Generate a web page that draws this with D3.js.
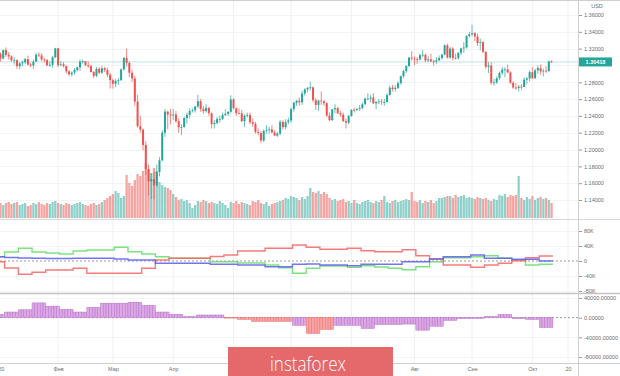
<!DOCTYPE html>
<html>
<head>
<meta charset="utf-8">
<script src="https://d3js.org/d3.v7.min.js"></script>
<style>
  body { margin: 0; background: #ffffff; }
  svg { display: block; font-family: "Liberation Sans", Arial, sans-serif; }
</style>
</head>
<body>
<svg id="drawing_region"></svg>
<script>
// daily candles, index 0 = 2020-01-01 (weekdays only)
const opens = [1.3255,1.3248,1.3140,1.3082,1.3183,1.3125,1.3107,1.3062,1.3064,1.2992,1.3025,1.3039,1.3075,1.3011,1.3000,1.3044,1.3128,1.3120,1.3070,1.3066,1.3002,1.3007,1.3097,1.3203,1.3004,1.3013,1.2992,1.2929,1.2895,1.2915,1.2945,1.2977,1.3046,1.3049,1.3004,1.2992,1.2922,1.2877,1.2960,1.2913,1.2966,1.2946,1.2890,1.2825,1.2782,1.2817,1.2826,1.2953,1.3090,1.3030,1.2913,1.2845,1.2571,1.2278,1.2237,1.2054,1.1770,1.1623,1.1649,1.1574,1.1734,1.1872,1.2199,1.2451,1.2417,1.2406,1.2417,1.2337,1.2264,1.2268,1.2375,1.2413,1.2458,1.2467,1.2512,1.2575,1.2483,1.2458,1.2495,1.2432,1.2303,1.2316,1.2363,1.2364,1.2410,1.2424,1.2448,1.2596,1.2491,1.2433,1.2432,1.2336,1.2401,1.2410,1.2326,1.2306,1.2209,1.2197,1.2107,1.2222,1.2230,1.2239,1.2204,1.2165,1.2190,1.2329,1.2266,1.2326,1.2346,1.2481,1.2556,1.2580,1.2562,1.2666,1.2716,1.2736,1.2740,1.2587,1.2531,1.2582,1.2573,1.2551,1.2404,1.2350,1.2479,1.2493,1.2432,1.2415,1.2337,1.2319,1.2400,1.2472,1.2469,1.2483,1.2493,1.2539,1.2605,1.2605,1.2618,1.2549,1.2565,1.2572,1.2565,1.2566,1.2648,1.2736,1.2720,1.2734,1.2791,1.2872,1.2933,1.2994,1.3094,1.3082,1.3076,1.3073,1.3122,1.3127,1.3059,1.3072,1.3050,1.3045,1.3062,1.3088,1.3129,1.3240,1.3094,1.3201,1.3089,1.3088,1.3150,1.3203,1.3214,1.3349,1.3371,1.3384,1.3344,1.3268,1.3278,1.3162,1.2984,1.2998,1.2794,1.2800,1.2848,1.2913,1.2951,1.2953,1.2917,1.2795,1.2737,1.2731,1.2748,1.2744,1.2831,1.2846,1.2920,1.2848,1.2942,1.2969,1.2929,1.2938,1.2934,1.3048];
const highs = [1.3265,1.3285,1.3155,1.3190,1.3214,1.3160,1.3120,1.3097,1.3070,1.3040,1.3060,1.3090,1.3118,1.3030,1.3070,1.3153,1.3155,1.3145,1.3090,1.3075,1.3050,1.3115,1.3210,1.3210,1.3050,1.3040,1.3000,1.2945,1.2930,1.2970,1.2990,1.3070,1.3070,1.3055,1.3050,1.3010,1.2935,1.2980,1.2980,1.2995,1.2983,1.2975,1.2915,1.2845,1.2840,1.2850,1.2965,1.3100,1.3200,1.3050,1.2950,1.2880,1.2650,1.2400,1.2250,1.2100,1.1820,1.1720,1.1740,1.1820,1.1910,1.2230,1.2480,1.2460,1.2485,1.2480,1.2460,1.2370,1.2300,1.2390,1.2440,1.2490,1.2490,1.2520,1.2650,1.2600,1.2520,1.2540,1.2510,1.2440,1.2350,1.2390,1.2400,1.2440,1.2480,1.2460,1.2645,1.2610,1.2500,1.2490,1.2470,1.2420,1.2440,1.2440,1.2370,1.2330,1.2250,1.2220,1.2240,1.2290,1.2270,1.2290,1.2230,1.2210,1.2350,1.2350,1.2360,1.2380,1.2500,1.2570,1.2590,1.2620,1.2700,1.2730,1.2740,1.2810,1.2750,1.2610,1.2590,1.2690,1.2590,1.2560,1.2440,1.2480,1.2540,1.2510,1.2460,1.2440,1.2370,1.2410,1.2480,1.2500,1.2490,1.2530,1.2560,1.2620,1.2670,1.2650,1.2670,1.2580,1.2600,1.2600,1.2600,1.2670,1.2760,1.2770,1.2770,1.2810,1.2880,1.2950,1.3000,1.3100,1.3170,1.3110,1.3100,1.3140,1.3185,1.3140,1.3110,1.3140,1.3070,1.3100,1.3120,1.3140,1.3250,1.3260,1.3220,1.3220,1.3140,1.3160,1.3210,1.3280,1.3360,1.3400,1.3482,1.3400,1.3380,1.3320,1.3290,1.3170,1.3040,1.3040,1.2840,1.2870,1.2930,1.2980,1.2980,1.3010,1.2930,1.2810,1.2790,1.2770,1.2780,1.2860,1.2860,1.2940,1.2980,1.2960,1.3000,1.3010,1.2960,1.2990,1.3060,1.3060];
const lows = [1.3235,1.3115,1.3046,1.3072,1.3102,1.3070,1.3043,1.3010,1.2960,1.2955,1.2990,1.3016,1.2999,1.2980,1.2961,1.3040,1.3100,1.3050,1.3035,1.2990,1.2985,1.2975,1.3085,1.2980,1.2995,1.2975,1.2905,1.2875,1.2870,1.2890,1.2925,1.2935,1.3020,1.2990,1.2970,1.2915,1.2850,1.2860,1.2895,1.2900,1.2920,1.2860,1.2725,1.2725,1.2740,1.2770,1.2815,1.2940,1.2990,1.2860,1.2805,1.2520,1.2260,1.2200,1.1990,1.1700,1.1455,1.1409,1.1410,1.1560,1.1680,1.1860,1.2150,1.2240,1.2300,1.2350,1.2320,1.2200,1.2170,1.2260,1.2310,1.2370,1.2440,1.2440,1.2490,1.2450,1.2430,1.2440,1.2400,1.2250,1.2250,1.2300,1.2320,1.2350,1.2400,1.2400,1.2430,1.2480,1.2400,1.2420,1.2330,1.2270,1.2380,1.2300,1.2270,1.2190,1.2170,1.2080,1.2090,1.2190,1.2190,1.2190,1.2160,1.2150,1.2170,1.2240,1.2240,1.2300,1.2320,1.2450,1.2520,1.2520,1.2530,1.2640,1.2680,1.2700,1.2560,1.2470,1.2460,1.2530,1.2520,1.2390,1.2340,1.2340,1.2430,1.2420,1.2390,1.2330,1.2250,1.2300,1.2390,1.2440,1.2460,1.2460,1.2480,1.2530,1.2590,1.2560,1.2540,1.2480,1.2540,1.2530,1.2520,1.2550,1.2640,1.2690,1.2690,1.2720,1.2770,1.2850,1.2910,1.2980,1.3060,1.3005,1.3020,1.3060,1.3100,1.3040,1.3040,1.3040,1.3000,1.3020,1.3050,1.3070,1.3120,1.3080,1.3080,1.3060,1.3070,1.3070,1.3120,1.3150,1.3200,1.3330,1.3350,1.3290,1.3230,1.3180,1.3150,1.2960,1.2910,1.2770,1.2760,1.2780,1.2830,1.2890,1.2860,1.2910,1.2780,1.2720,1.2710,1.2690,1.2710,1.2740,1.2780,1.2810,1.2840,1.2840,1.2900,1.2890,1.2870,1.2910,1.2920,1.3030];
const closes = [1.3248,1.3140,1.3082,1.3183,1.3125,1.3107,1.3062,1.3064,1.2992,1.3025,1.3039,1.3075,1.3011,1.3000,1.3044,1.3128,1.3120,1.3070,1.3066,1.3002,1.3007,1.3097,1.3203,1.3004,1.3013,1.2992,1.2929,1.2895,1.2915,1.2945,1.2977,1.3046,1.3049,1.3004,1.2992,1.2922,1.2877,1.2960,1.2913,1.2966,1.2946,1.2890,1.2825,1.2782,1.2817,1.2826,1.2953,1.3090,1.3030,1.2913,1.2845,1.2571,1.2278,1.2237,1.2054,1.1770,1.1623,1.1649,1.1574,1.1734,1.1872,1.2199,1.2451,1.2417,1.2406,1.2417,1.2337,1.2264,1.2268,1.2375,1.2413,1.2458,1.2467,1.2512,1.2575,1.2483,1.2458,1.2495,1.2432,1.2303,1.2316,1.2363,1.2364,1.2410,1.2424,1.2448,1.2596,1.2491,1.2433,1.2432,1.2336,1.2401,1.2410,1.2326,1.2306,1.2209,1.2197,1.2107,1.2222,1.2230,1.2239,1.2204,1.2165,1.2190,1.2329,1.2266,1.2326,1.2346,1.2481,1.2556,1.2580,1.2562,1.2666,1.2716,1.2736,1.2740,1.2587,1.2531,1.2582,1.2573,1.2551,1.2404,1.2350,1.2479,1.2493,1.2432,1.2415,1.2337,1.2319,1.2400,1.2472,1.2469,1.2483,1.2493,1.2539,1.2605,1.2605,1.2618,1.2549,1.2565,1.2572,1.2565,1.2566,1.2648,1.2736,1.2720,1.2734,1.2791,1.2872,1.2933,1.2994,1.3094,1.3082,1.3076,1.3073,1.3122,1.3127,1.3059,1.3072,1.3050,1.3045,1.3062,1.3088,1.3129,1.3240,1.3094,1.3201,1.3089,1.3088,1.3150,1.3203,1.3214,1.3349,1.3371,1.3384,1.3344,1.3268,1.3278,1.3162,1.2984,1.2998,1.2794,1.2800,1.2848,1.2913,1.2951,1.2953,1.2917,1.2795,1.2737,1.2731,1.2748,1.2744,1.2831,1.2846,1.2920,1.2848,1.2942,1.2969,1.2929,1.2938,1.2934,1.3048,1.3042];
const volumes = [14,16,15,13,15,16,14,15,16,13,14,15,12,13,15,14,16,14,13,15,14,16,17,15,14,13,15,14,13,14,15,16,14,13,12,14,15,13,14,16,18,20,22,24,27,25,20,22,43,35,32,38,44,42,47,55,48,45,50,47,36,33,31,30,28,24,21,18,19,17,18,15,10,13,17,16,18,17,15,16,15,14,17,15,13,10,16,15,17,14,16,15,14,13,17,16,18,15,14,16,12,14,15,16,17,18,20,19,22,21,20,18,21,19,22,30,26,25,27,24,26,24,20,18,19,17,18,19,16,17,15,18,15,14,16,17,18,16,15,17,16,18,22,16,15,17,18,16,17,18,19,18,26,17,16,18,15,17,16,18,15,17,20,20,21,22,22,20,23,21,22,23,20,21,20,19,21,20,19,20,18,17,19,18,23,22,24,21,23,22,23,42,20,18,21,19,22,18,20,21,19,20,18,15];
const lastPrice = 1.30418;

// weekly series, week k starts on weekday index 5k-1
const greenNet = [11500,24000,33900,24000,21300,18700,26700,29300,29300,36500,24800,18700,11500,7200,7200,7200,-1900,-1900,-5300,-5300,-10700,-17900,-32800,-19500,-13300,-13300,-16800,-12500,-16000,-19500,-23200,-15200,-1900,8800,8800,11500,14100,7200,2700,-10700,-8800];
const redNet = [-1900,-18700,-35500,-30100,-24000,-24000,-19500,-32800,-32800,-32800,-32800,-19500,2700,7200,7200,7200,12000,16000,26700,26700,33900,33900,42700,36500,31200,31200,33900,27500,24800,24800,30100,14100,5300,-10700,-10700,-16800,-10700,-6100,800,8800,13300];
const blueNet = [11500,9300,8000,7200,6700,6700,7200,7200,7200,5300,2700,2700,-6100,-6100,-6100,-6100,-8800,-8800,-10700,-10700,-15200,-15200,-8800,-8000,-10700,-10700,-12500,-8800,-8800,-8800,-1900,-1900,5300,11500,11500,16000,7200,7200,4500,4500,0];
const histValues = [6600,11400,16000,30000,23400,16600,11400,20600,29400,29400,31400,24600,11400,6600,2000,5400,5400,-800,-3400,-7400,-7400,-7400,-15400,-32000,-24000,-15400,-15400,-22000,-14000,-14000,-13000,-25400,-17400,-5400,-1400,-1400,2000,6000,-2000,-3400,-20000];
const histPinkWeeks = [17,18,19,20,21,23,24];

// axis ticks
const priceTicks = [1.14,1.16,1.18,1.20,1.22,1.24,1.26,1.28,1.32,1.34,1.36];
const midTicks = [80000,40000,0,-40000,-80000];
const midTickLabels = ['80K','40K','0','-40K','-80K'];
const lowTicks = [40000,0,-40000,-80000];
const monthIdx = [1,23,43,65,87,108,130,153,174,196,209];
// time labels left visible by the watermark (May-Jul sit under it)
const labelIdx = [1,23,43,65,153,174,196,209];
const monthLabels = ['2020','Фев','Мар','Апр','Авг','Сен','Окт','20'];

const config = { width: 620, height: 376, axisX: 578, volBase: 218, sep1: 219.5, sep2: 293.5, xaxisY: 363.5 };
const upColor = '#26a69a', downColor = '#ef5350';

const svg = d3.select('#drawing_region')
    .attr('width', config.width)
    .attr('height', config.height);

svg.append('rect').attr('width', config.width).attr('height', config.height).attr('fill', '#fff');

const xscale = d3.scaleLinear().domain([0, 209]).range([-5, 568]);
const yprice = d3.scaleLinear().domain([1.14, 1.36]).range([200, 15]);
const yvol = d3.scaleLinear().domain([0, 60]).range([config.volBase, config.volBase - 60]);
const ymid = d3.scaleLinear().domain([-80000, 80000]).range([291, 231]);
const ylow = d3.scaleLinear().domain([-80000, 40000]).range([357, 298]);

svg.append('clipPath').attr('id', 'plotclip')
    .append('rect').attr('x', 0).attr('y', 0).attr('width', config.axisX).attr('height', config.xaxisY);

const plot = svg.append('g').attr('clip-path', 'url(#plotclip)');

// grid
plot.selectAll('line.vgrid').data(monthIdx).enter().append('line')
    .attr('x1', d => xscale(d)).attr('x2', d => xscale(d))
    .attr('y1', 0).attr('y2', config.xaxisY)
    .attr('stroke', '#eef0f3').attr('stroke-width', 1);
plot.selectAll('line.pgrid').data(priceTicks.concat([1.30])).enter().append('line')
    .attr('x1', 0).attr('x2', config.axisX)
    .attr('y1', d => Math.round(yprice(d)) + 0.5).attr('y2', d => Math.round(yprice(d)) + 0.5)
    .attr('stroke', '#f1f3f6');
plot.selectAll('line.mgrid').data([80000, 40000, -40000, -80000]).enter().append('line')
    .attr('x1', 0).attr('x2', config.axisX)
    .attr('y1', d => Math.round(ymid(d)) + 0.5).attr('y2', d => Math.round(ymid(d)) + 0.5)
    .attr('stroke', '#f1f3f6');
plot.selectAll('line.lgrid').data([40000, -40000, -80000]).enter().append('line')
    .attr('x1', 0).attr('x2', config.axisX)
    .attr('y1', d => Math.round(ylow(d)) + 0.5).attr('y2', d => Math.round(ylow(d)) + 0.5)
    .attr('stroke', '#f1f3f6');

const idx = d3.range(closes.length);
const isUp = i => closes[i] >= opens[i];

// volume
plot.selectAll('rect.vol').data(idx).enter().append('rect')
    .attr('x', i => xscale(i) - 1.15)
    .attr('width', 2.3)
    .attr('y', i => yvol(volumes[i]))
    .attr('height', i => config.volBase - yvol(volumes[i]))
    .attr('fill', i => isUp(i) ? '#8fd1ca' : '#f6a4a2');

// current price line
plot.append('line')
    .attr('x1', 0).attr('x2', config.axisX)
    .attr('y1', yprice(lastPrice)).attr('y2', yprice(lastPrice))
    .attr('stroke', '#bfe3df').attr('stroke-width', 1);

// candles
plot.selectAll('line.wick').data(idx).enter().append('line')
    .attr('x1', i => xscale(i)).attr('x2', i => xscale(i))
    .attr('y1', i => yprice(highs[i])).attr('y2', i => yprice(lows[i]))
    .attr('stroke', i => isUp(i) ? upColor : downColor)
    .attr('stroke-width', 0.7);
plot.selectAll('rect.body').data(idx).enter().append('rect')
    .attr('x', i => xscale(i) - 1)
    .attr('width', 2)
    .attr('y', i => yprice(Math.max(opens[i], closes[i])))
    .attr('height', i => Math.max(0.8, Math.abs(yprice(opens[i]) - yprice(closes[i]))))
    .attr('fill', i => isUp(i) ? upColor : downColor);

// middle panel: weekly step lines
const weekStart = k => 5 * k - 1.5;
const lastEdge = closes.length - 0.5;
function stepPoints(values) {
    const pts = values.map((v, k) => [xscale(weekStart(k)), ymid(v)]);
    pts.push([xscale(lastEdge), ymid(values[values.length - 1])]);
    return pts;
}
const stepLine = d3.line().curve(d3.curveStepAfter);

plot.append('line')
    .attr('x1', 0).attr('x2', config.axisX)
    .attr('y1', ymid(0)).attr('y2', ymid(0))
    .attr('stroke', '#9a9a9a').attr('stroke-dasharray', '2,2');

[[greenNet, '#66dd66'], [redNet, '#f76363'], [blueNet, '#5c5cf2']].forEach(([vals, col]) => {
    plot.append('path')
        .attr('d', stepLine(stepPoints(vals)))
        .attr('fill', 'none')
        .attr('stroke', col)
        .attr('stroke-opacity', 0.85)
        .attr('stroke-width', 1.4);
});

// bottom panel: histogram, one bar a day holding its week's value
plot.append('line')
    .attr('x1', 0).attr('x2', config.axisX)
    .attr('y1', ylow(0)).attr('y2', ylow(0))
    .attr('stroke', '#9a9a9a').attr('stroke-dasharray', '2,2');

const weekOf = i => Math.floor((i + 1) / 5);
plot.selectAll('rect.hist').data(idx).enter().append('rect')
    .attr('x', i => xscale(i - 0.5))
    .attr('width', xscale(1) - xscale(0))
    .attr('y', i => ylow(Math.max(0, histValues[weekOf(i)])))
    .attr('height', i => Math.abs(ylow(histValues[weekOf(i)]) - ylow(0)))
    .attr('fill', i => histPinkWeeks.includes(weekOf(i)) ? '#f6a5a5' : '#dba8e4')
    .attr('stroke', i => histPinkWeeks.includes(weekOf(i)) ? '#ec7070' : '#b975cc')
    .attr('stroke-width', 0.5);

// separators and frame
svg.append('line').attr('x1', 0).attr('x2', config.width).attr('y1', 0.5).attr('y2', 0.5).attr('stroke', '#cfcfcf');
svg.append('line').attr('x1', 0).attr('x2', config.width).attr('y1', config.sep1).attr('y2', config.sep1).attr('stroke', '#d8d8d8');
svg.append('line').attr('x1', 0).attr('x2', config.width).attr('y1', config.sep2).attr('y2', config.sep2).attr('stroke', '#c4c4c4').attr('stroke-width', 1.5);
svg.append('line').attr('x1', 0).attr('x2', config.width).attr('y1', config.xaxisY).attr('y2', config.xaxisY).attr('stroke', '#d0d0d0');
svg.append('line').attr('x1', config.axisX + 0.5).attr('x2', config.axisX + 0.5).attr('y1', 0).attr('y2', config.height).attr('stroke', '#cfcfcf');

// right axes
function styleAxis(g) {
    g.select('.domain').remove();
    g.selectAll('.tick line').attr('stroke', '#9a9a9a');
    g.selectAll('.tick text').attr('fill', '#6d6d6d').attr('font-size', 5.5).attr('font-family', '"Liberation Sans", Arial, sans-serif');
}
svg.append('g')
    .attr('transform', `translate(${config.axisX + 1}, 0)`)
    .call(d3.axisRight(yprice).tickValues(priceTicks).tickFormat(d => d.toFixed(5)).tickSize(3).tickPadding(2))
    .call(styleAxis);
svg.append('g')
    .attr('transform', `translate(${config.axisX + 1}, 0)`)
    .call(d3.axisRight(ymid).tickValues(midTicks).tickFormat((d, i) => midTickLabels[i]).tickSize(3).tickPadding(2))
    .call(styleAxis);
svg.append('g')
    .attr('transform', `translate(${config.axisX + 1}, 0)`)
    .call(d3.axisRight(ylow).tickValues(lowTicks).tickFormat(d => d.toFixed(5)).tickSize(3).tickPadding(2))
    .call(styleAxis);

svg.append('text').attr('x', 597).attr('y', 8).attr('text-anchor', 'middle')
    .attr('font-size', 5.5).attr('fill', '#6d6d6d').text('USD');

// last price tag
const tagY = yprice(lastPrice);
svg.append('rect').attr('x', config.axisX + 1).attr('y', tagY - 4.5).attr('width', 33).attr('height', 9).attr('fill', upColor);
svg.append('text').attr('x', config.axisX + 17.5).attr('y', tagY + 2).attr('text-anchor', 'middle')
    .attr('font-size', 5.5).attr('font-weight', 'bold').attr('fill', '#ffffff').text(lastPrice.toFixed(5));

// time axis
svg.append('g')
    .attr('transform', `translate(0, ${config.xaxisY})`)
    .call(d3.axisBottom(xscale).tickValues(labelIdx).tickFormat((d, i) => monthLabels[i]).tickSize(0).tickPadding(4))
    .call(g => g.select('.domain').remove())
    .call(g => g.selectAll('.tick text').attr('fill', '#6d6d6d').attr('font-size', 5.5));

// watermark logo
svg.append('rect').attr('x', 228).attr('y', 347).attr('width', 165).attr('height', 29).attr('fill', '#e5686b');
svg.append('text').attr('x', 308).attr('y', 371).attr('text-anchor', 'middle')
    .attr('font-family', '"Open Sans", "Noto Sans", sans-serif').attr('font-weight', 300)
    .attr('font-size', 21).attr('fill', '#ffffff')
    .attr('textLength', 76).attr('lengthAdjust', 'spacingAndGlyphs')
    .text('instaforex');
</script>
</body>
</html>
